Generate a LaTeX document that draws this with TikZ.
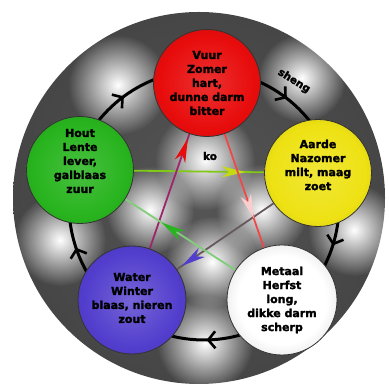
\documentclass[tikz,border=0pt]{standalone}
\usepackage{fontspec}
\setmainfont{DejaVu Sans}[BoldFont={DejaVu Sans Bold}, BoldFeatures={FakeBold=2}]
\usetikzlibrary{arrows.meta,positioning,calc,decorations.markings,fadings}
\definecolor{SchijfDonker}{RGB}{50,50,50}
\definecolor{SchijfMidden}{RGB}{85,85,85}
\definecolor{SchijfRand}{RGB}{145,145,145}
\definecolor{VuurRood}{RGB}{232,12,12}
\definecolor{HoutGroen}{RGB}{40,180,30}
\definecolor{AardeGeel}{RGB}{238,226,20}
\definecolor{WaterBlauw}{RGB}{82,62,205}
\definecolor{MetaalGrijs}{RGB}{235,235,235}
\pgfdeclareradialshading{schijfvorm}{\pgfpointorigin}{color(0bp)=(SchijfMidden);
  color(26bp)=(SchijfMidden!55!SchijfDonker); color(45bp)=(SchijfDonker);
  color(47.5bp)=(SchijfDonker!65!SchijfRand); color(50bp)=(SchijfRand)}
\pgfdeclareradialshading{vuurbol}{\pgfpointorigin}{color(0bp)=(VuurRood!85!white);
  color(22bp)=(VuurRood); color(42bp)=(VuurRood!78!black); color(50bp)=(VuurRood!45!black)}
\pgfdeclareradialshading{houtbol}{\pgfpointorigin}{color(0bp)=(HoutGroen!85!white);
  color(22bp)=(HoutGroen); color(42bp)=(HoutGroen!75!black); color(50bp)=(HoutGroen!40!black)}
\pgfdeclareradialshading{aardebol}{\pgfpointorigin}{color(0bp)=(AardeGeel!85!white);
  color(22bp)=(AardeGeel); color(42bp)=(AardeGeel!78!black); color(50bp)=(AardeGeel!50!black)}
\pgfdeclareradialshading{waterbol}{\pgfpointorigin}{color(0bp)=(WaterBlauw!80!white);
  color(22bp)=(WaterBlauw); color(42bp)=(WaterBlauw!75!black); color(50bp)=(WaterBlauw!40!black)}
\pgfdeclareradialshading{metaalbol}{\pgfpointorigin}{color(0bp)=(white);
  color(20bp)=(white); color(40bp)=(black!22); color(50bp)=(black!55)}
\tikzfading[name=witgloed, inner color=transparent!0, outer color=transparent!100]
\pgfdeclarelayer{achtergrond}
\pgfdeclarelayer{lijnen}
\pgfsetlayers{achtergrond,lijnen,main}
\tikzset{
  bol/.style={circle, draw=black!80, line width=0.8pt, shade, shading=#1,
    minimum size=107pt, inner sep=0pt},
  boltekst/.style={align=center, font=\bfseries\fontsize{11}{14}\selectfont, inner sep=1pt},
  kleintekst/.style={font=\bfseries\fontsize{10.5}{12}\selectfont, inner sep=1pt},
  gloed/.style={white, path fading=witgloed},
  shengpijl/.style={line width=3pt, black, postaction={decorate},
    decoration={markings, mark=at position 0.5 with
      {\arrow{Straight Barb[length=7pt, width=17pt, line width=2.6pt]}}}},
  kolijn/.style={line width=1.8pt, draw=#1},
  kopunt/.style 2 args={postaction={decorate},
    decoration={markings, mark=at position #1 with
      {\arrow{Stealth[length=24pt, width=11pt, inset=7pt, color=#2]}}}},
}
\begin{document}
\begin{tikzpicture}[x=1pt, y=1pt]
  \useasboundingbox (0,0) rectangle (388,390);
  % schijf en gloed
  \begin{pgfonlayer}{achtergrond}
    \fill[white] (0,0) rectangle (388,390);
    \shade[shading=schijfvorm] (199,192) circle (186pt);
    \fill[gloed] (118,305) circle (50pt);
    \fill[gloed] (302,312) circle (44pt);
    \fill[gloed] (354,160) circle (46pt);
    \fill[gloed] (205,47) circle (48pt);
    \fill[gloed] (60,150) circle (46pt);
    \fill[gloed] (205,230) circle (50pt);
    \fill[gloed] (150,180) circle (44pt);
    \fill[gloed] (262,180) circle (46pt);
    \fill[gloed] (212,128) circle (46pt);
  \end{pgfonlayer}
  % de vijf elementen
  \node[bol=vuurbol] (vuur) at (207,307) {};
  \node[bol=aardebol] (aarde) at (318,217) {};
  \node[bol=metaalbol, minimum size=110pt] (metaal) at (282,90) {};
  \node[bol=waterbol, minimum size=108pt] (water) at (132,90) {};
  \node[bol=houtbol] (hout) at (80,220) {};
  \node[boltekst] (vuurtekst) at (vuur) {Vuur\\Zomer\\hart,\\dunne darm\\bitter};
  \node[boltekst] (aardetekst) at ([yshift=8pt]aarde) {Aarde\\Nazomer\\milt, maag\\zoet};
  \node[boltekst] (metaaltekst) at (metaal) {Metaal\\Herfst\\long,\\dikke darm\\scherp};
  \node[boltekst] (watertekst) at ([yshift=2pt]water) {Water\\Winter\\blaas, nieren\\zout};
  \node[boltekst] (houttekst) at ([yshift=9pt]hout) {Hout\\Lente\\lever,\\galblaas\\zuur};
  \node[kleintekst, rotate=-32] (shenglabel) at (294,309) {sheng};
  \node[kleintekst] (kolabel) at (210,234) {ko};
  % sheng-kring en ko-ster
  \begin{pgfonlayer}{lijnen}
    \coordinate (ring) at (204,185);
    \coordinate (rvuur) at ([shift={(88.6:135pt)}]ring);
    \coordinate (raarde) at ([shift={(15.7:135pt)}]ring);
    \coordinate (rmetaal) at ([shift={(-50.6:135pt)}]ring);
    \coordinate (rwater) at ([shift={(232.8:135pt)}]ring);
    \coordinate (rhout) at ([shift={(164.2:135pt)}]ring);
    \draw[shengpijl] (rvuur) arc[start angle=88.6, end angle=15.7, radius=135pt];
    \draw[shengpijl] (raarde) arc[start angle=15.7, end angle=-50.6, radius=135pt];
    \draw[shengpijl] (rmetaal) arc[start angle=-50.6, end angle=-127.2, radius=135pt];
    \draw[shengpijl] (rwater) arc[start angle=232.8, end angle=164.2, radius=135pt];
    \draw[shengpijl] (rhout) arc[start angle=164.2, end angle=88.6, radius=135pt];
    \draw[kolijn=HoutGroen!55!AardeGeel, kopunt={0.86}{AardeGeel!80!HoutGroen}] (hout) -- (aarde);
    \draw[kolijn=AardeGeel!40!WaterBlauw!70!black, kopunt={0.95}{WaterBlauw}] (aarde) -- (water);
    \draw[kolijn=WaterBlauw!50!VuurRood, kopunt={0.96}{VuurRood}] (water) -- (vuur);
    \draw[kolijn=VuurRood!75!white, kopunt={0.74}{VuurRood!20!white}] (vuur) -- (metaal);
    \draw[kolijn=MetaalGrijs!45!HoutGroen, kopunt={0.67}{HoutGroen}] (metaal) -- (hout);
  \end{pgfonlayer}
\end{tikzpicture}
\end{document}
